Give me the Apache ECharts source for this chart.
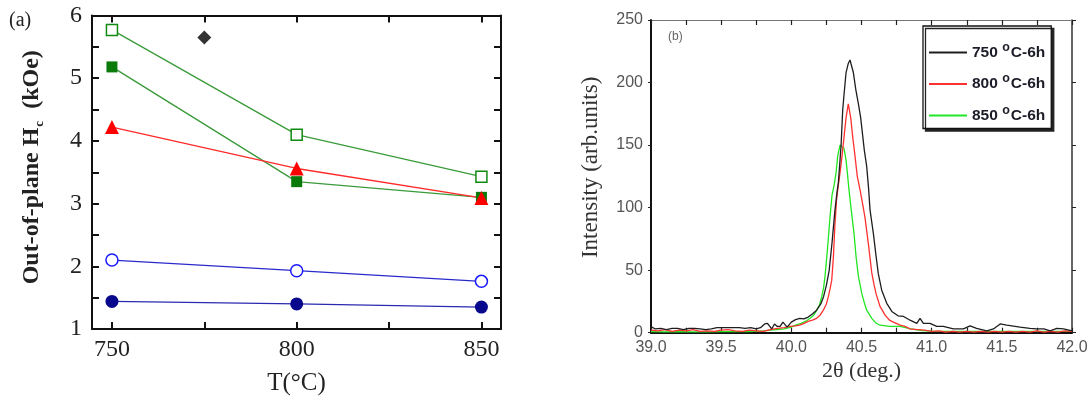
<!DOCTYPE html>
<html>
<head>
<meta charset="utf-8">
<script src="https://cdn.jsdelivr.net/npm/echarts@6/dist/echarts.min.js"></script>
<style>
  html, body { margin: 0; padding: 0; background: #fff; }
  #chart { width: 1091px; height: 404px; }
</style>
</head>
<body>
<div id="chart"></div>
<script>
// ---- Panel (a): out-of-plane coercivity vs annealing temperature ----
const tempC = [750, 800, 850];
const hcOpenSquare = [5.77, 4.10, 3.43];
const hcFilledSquare = [5.18, 3.35, 3.10];
const hcTriangle = [4.22, 3.56, 3.09];
const hcOpenCircle = [2.10, 1.93, 1.76];
const hcFilledCircle = [1.44, 1.40, 1.35];
const diamondT = [775];
const diamondHc = [5.65];
const tempTicks = [750, 775, 800, 825, 850];
const tempLabels = [750, 800, 850];
const hcLabels = [1, 2, 3, 4, 5, 6];

// ---- Panel (b): XRD scans around the (111) peak ----
const xrdNames = ['750 °C-6h', '800 °C-6h', '850 °C-6h'];
const theta750 = [39.00,39.03,39.07,39.11,39.15,39.19,39.23,39.27,39.31,39.35,39.39,39.43,39.47,39.51,39.55,39.59,39.63,39.67,39.71,39.75,39.78,39.81,39.83,39.86,39.88,39.90,39.92,39.94,39.97,40.00,40.03,40.06,40.09,40.12,40.15,40.18,40.21,40.23,40.25,40.27,40.29,40.31,40.325,40.335,40.347,40.355,40.366,40.376,40.39,40.405,40.418,40.43,40.442,40.46,40.478,40.494,40.509,40.52,40.537,40.55,40.561,40.585,40.604,40.62,40.644,40.68,40.716,40.76,40.80,40.846,40.894,40.917,40.941,40.988,41.036,41.083,41.155,41.226,41.274,41.32,41.393,41.44,41.488,41.535,41.63,41.70,41.749,41.80,41.844,41.892,41.94,42.00];
const int750 = [5,3,3.5,2.5,3.5,3.5,2.5,3.5,3.5,3,2.5,3,4,4,4,4,4,3.5,4,3,4,7,7.5,3,7,5,5,8.5,4.5,8.5,10.5,11.5,11,12.5,15,18,23,29,38,50,72,97,112,120,138,151,178,191,208,215,218,217,208,194,183,172,157,146,133,116,98,79,61,47,34,23.5,17,13.5,13,10,7.5,11.5,7.5,7.5,5,5,3,3,5.5,3.5,1.5,3,7,6,4.5,3.5,3,3,1.5,3.5,3,1.5];
const theta800 = [39.00,39.05,39.10,39.15,39.20,39.25,39.30,39.35,39.40,39.45,39.50,39.55,39.60,39.65,39.70,39.75,39.80,39.85,39.90,39.95,39.99,40.03,40.06,40.09,40.12,40.15,40.18,40.205,40.228,40.25,40.264,40.276,40.288,40.30,40.31,40.322,40.335,40.347,40.36,40.376,40.39,40.406,40.423,40.437,40.454,40.47,40.49,40.508,40.525,40.549,40.573,40.59,40.604,40.632,40.668,40.70,40.716,40.775,40.81,40.846,40.90,40.95,41.00,41.05,41.10,41.15,41.20,41.25,41.30,41.35,41.40,41.45,41.50,41.55,41.60,41.65,41.70,41.75,41.80,41.85,41.90,41.95,42.00];
const int800 = [2,1.5,2.5,1,2,1.5,2.5,1,1.5,1,2,2.5,1.5,1,2,1.5,1,2.5,3.5,4,5,5.5,6,7.5,9,10,11.5,14,18,23,29,35,42,61,85,106,118,128,140,157,172,183,172,157,141,125,114,103,92,71,48,38,31,21,14,10,9,6,5,3,2.5,2,1,1.5,0.5,1,0.5,1,0.5,1,0.5,1,0.5,1,0.5,1,0.5,1.5,0.5,1,0.5,1.5,1];
const theta850 = [39.00,39.10,39.20,39.30,39.40,39.50,39.60,39.70,39.80,39.85,39.90,39.95,40.00,40.03,40.07,40.10,40.133,40.16,40.181,40.20,40.217,40.23,40.24,40.257,40.276,40.29,40.305,40.319,40.33,40.347,40.36,40.376,40.39,40.40,40.411,40.425,40.447,40.461,40.478,40.502,40.52,40.537,40.573,40.60,40.632,40.70,40.775,40.85,40.93,41.00,41.10,41.20,41.30,41.40,41.50,41.60,41.70,41.80,41.90,42.00];
const int850 = [0.8,0.7,0.8,0.7,0.7,0.8,0.8,0.9,1.5,2,2.5,3,4.5,6,7.5,9,11.5,14,18,22,29,36,45,66,93,110,118,128,141,150,150,147,138,127,114,100,79,61,45,31.5,24,18,11.5,8,6,5,5,3,1.6,1.2,1,1,1,1,1,1,1,1,1,1];
const thetaLabels = [39.0, 39.5, 40.0, 40.5, 41.0, 41.5, 42.0];

const pairs = (xs, ys) => xs.map((x, i) => [x, ys[i]]);

const SERIF = 'Liberation Serif';
const SANS = 'Liberation Sans';

const chart = echarts.init(document.getElementById('chart'), null, { renderer: 'canvas' });

// shared frame pieces for panel (a)
const frameA = { show: true, onZero: false, lineStyle: { color: '#111', width: 2 } };
const tickA = { show: true, inside: true, length: 7, lineStyle: { color: '#111', width: 2 } };
// shared frame pieces for panel (b)
const tickB = { show: true, inside: true, length: 5, lineStyle: { color: '#222', width: 1.2 } };

function lineA(name, data, color, lineColor, symbol, size, filled) {
  return {
    type: 'line', name, xAxisIndex: 0, yAxisIndex: 0,
    data, symbol, symbolSize: size, showSymbol: true,
    lineStyle: { color: lineColor, width: 1.3 },
    itemStyle: { color: filled ? color : '#fff', borderColor: color, borderWidth: filled ? 0 : 1.5 },
    emphasis: { disabled: true }, z: 3
  };
}

const option = {
  animation: false,
  backgroundColor: '#fff',
  grid: [
    { left: 92, top: 15.5, right: 590, bottom: 75 },
    { left: 651, top: 20, right: 19, bottom: 71.3 }
  ],
  xAxis: [
    {
      gridIndex: 0, type: 'value', position: 'bottom', min: 744.6, max: 855.3,
      axisLine: frameA,
      axisTick: Object.assign({ customValues: tempTicks }, tickA),
      axisLabel: { customValues: tempLabels, color: '#222', fontFamily: SERIF, fontSize: 24, margin: 9 },
      splitLine: { show: false },
      name: 'T(°C)', nameLocation: 'middle', nameGap: 42,
      nameTextStyle: { fontFamily: SERIF, fontSize: 25, color: '#222' }
    },
    {
      gridIndex: 0, type: 'value', position: 'top', min: 744.6, max: 855.3,
      axisLine: frameA,
      axisTick: Object.assign({ customValues: tempTicks }, tickA),
      axisLabel: { show: false }, splitLine: { show: false }
    },
    {
      gridIndex: 1, type: 'value', position: 'bottom', min: 39, max: 42, interval: 0.25,
      axisLine: { show: true, onZero: false, lineStyle: { color: '#111', width: 2 } },
      axisTick: tickB,
      axisLabel: {
        color: '#555', fontFamily: SANS, fontSize: 16, margin: 7,
        customValues: thetaLabels,
        formatter: v => Number(v).toFixed(1)
      },
      splitLine: { show: false },
      name: '2θ (deg.)', nameLocation: 'middle', nameGap: 22,
      nameTextStyle: { fontFamily: SERIF, fontSize: 22, color: '#333' }
    },
    {
      gridIndex: 1, type: 'value', position: 'top', min: 39, max: 42, interval: 0.25,
      axisLine: { show: true, onZero: false, lineStyle: { color: '#777', width: 1 } },
      axisTick: tickB, axisLabel: { show: false }, splitLine: { show: false }
    }
  ],
  yAxis: [
    {
      gridIndex: 0, type: 'value', position: 'left', min: 1, max: 6, interval: 0.5,
      axisLine: frameA, axisTick: tickA,
      axisLabel: { customValues: hcLabels, color: '#222', fontFamily: SERIF, fontSize: 24, margin: 10 },
      splitLine: { show: false },
      name: 'Out-of-plane H{sub|c}  (kOe)', nameLocation: 'middle', nameGap: 46,
      nameTextStyle: {
        fontFamily: SERIF, fontSize: 24, fontWeight: 'bold', color: '#222', padding: [0, 0, 0, 10],
        rich: { sub: { fontFamily: SERIF, fontSize: 13, fontWeight: 'bold', color: '#222', padding: [15, 0, 0, 1] } }
      }
    },
    {
      gridIndex: 0, type: 'value', position: 'right', min: 1, max: 6, interval: 0.5,
      axisLine: frameA, axisTick: tickA, axisLabel: { show: false }, splitLine: { show: false }
    },
    {
      gridIndex: 1, type: 'value', position: 'left', min: 0, max: 250, interval: 50,
      axisLine: { show: true, onZero: false, lineStyle: { color: '#111', width: 2 } },
      axisTick: { show: true, inside: false, length: 3, lineStyle: { color: '#222', width: 1 } },
      axisLabel: { color: '#555', fontFamily: SANS, fontSize: 16, margin: 8 },
      splitLine: { show: false },
      name: 'Intensity (arb.units)', nameLocation: 'middle', nameGap: 49,
      nameTextStyle: { fontFamily: SERIF, fontSize: 23, color: '#333', padding: [0, 0, 0, 18] }
    },
    {
      gridIndex: 1, type: 'value', position: 'right', min: 0, max: 250, interval: 50,
      axisLine: { show: true, onZero: false, lineStyle: { color: '#333', width: 1.5 } },
      axisTick: { show: true, inside: false, length: 4, lineStyle: { color: '#222', width: 1 } },
      axisLabel: { show: false }, splitLine: { show: false }
    }
  ],
  legend: {
    data: xrdNames,
    orient: 'vertical', left: 923, top: 26,
    icon: 'rect', itemWidth: 38, itemHeight: 2, itemGap: 12,
    padding: [15, 6, 5, 6],
    backgroundColor: '#fff', borderColor: '#111', borderWidth: 1.3,
    shadowColor: '#222', shadowBlur: 0, shadowOffsetX: 2.5, shadowOffsetY: 2.5,
    selectedMode: false,
    formatter: name => {
      const p = name.split(' °');
      return '{n|' + p[0] + ' }{s|o}{n|' + p[1] + '}';
    },
    textStyle: {
      rich: {
        n: { fontFamily: SANS, fontSize: 15.5, fontWeight: 'bold', color: '#1c1c28' },
        s: { fontFamily: SANS, fontSize: 12.5, fontWeight: 'bold', color: '#1c1c28', padding: [0, 1, 10, 0] }
      }
    }
  },
  graphic: [
    { type: 'text', left: 9, top: 11, style: { text: '(a)', font: '20px "Liberation Serif"', fill: '#222' } },
    { type: 'text', left: 668, top: 31, style: { text: '(b)', font: '12px "Liberation Sans"', fill: '#666' } }
  ],
  series: [
    lineA('open square', pairs(tempC, hcOpenSquare), '#118a11', '#3a9a3a', 'rect', 11, false),
    lineA('filled square', pairs(tempC, hcFilledSquare), '#0a7a0a', '#3a9a3a', 'rect', 11, true),
    lineA('filled circle', pairs(tempC, hcFilledCircle), '#08088c', '#2a2ab0', 'circle', 13, true),
    lineA('open circle', pairs(tempC, hcOpenCircle), '#1a1aff', '#2a2acc', 'circle', 12, false),
    lineA('triangle', pairs(tempC, hcTriangle), '#ff0000', '#ff2a2a', 'triangle', 14, true),
    {
      type: 'scatter', name: 'diamond', xAxisIndex: 0, yAxisIndex: 0,
      data: pairs(diamondT, diamondHc), symbol: 'diamond', symbolSize: 14,
      itemStyle: { color: '#000' }, emphasis: { disabled: true }
    },
    {
      type: 'line', name: xrdNames[2], xAxisIndex: 2, yAxisIndex: 2,
      data: pairs(theta850, int850), symbol: 'none', color: '#22e622',
      lineStyle: { color: '#22e622', width: 1.3 }, emphasis: { disabled: true }
    },
    {
      type: 'line', name: xrdNames[1], xAxisIndex: 2, yAxisIndex: 2,
      data: pairs(theta800, int800), symbol: 'none', color: '#ff3030',
      lineStyle: { color: '#ff3030', width: 1.3 }, emphasis: { disabled: true }
    },
    {
      type: 'line', name: xrdNames[0], xAxisIndex: 2, yAxisIndex: 2,
      data: pairs(theta750, int750), symbol: 'none', color: '#1e1e1e',
      lineStyle: { color: '#1e1e1e', width: 1.3 }, emphasis: { disabled: true }
    }
  ]
};

chart.setOption(option);
</script>
</body>
</html>
